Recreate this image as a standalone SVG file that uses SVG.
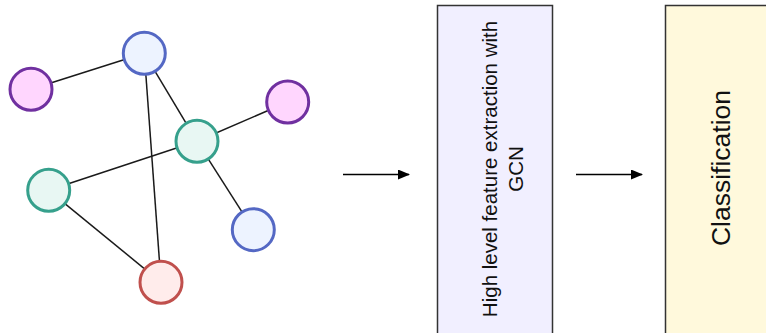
<svg xmlns="http://www.w3.org/2000/svg" width="766" height="333" viewBox="0 0 766 333">
<style>
.edge{stroke:#1a1a1a;stroke-width:1.5;fill:none}
.arrow{stroke:#000;stroke-width:1.5;fill:none}
.node{stroke-width:3}
.blue{fill:#edf3ff;stroke:#5468c4}
.purple{fill:#ffd6fe;stroke:#7030a0}
.green{fill:#e8f7f3;stroke:#36a08c}
.red{fill:#ffeceb;stroke:#c0504d}
.box{stroke:#333;stroke-width:1.5}
.lbl{font-family:"Liberation Sans",Arial,sans-serif;fill:#111;text-anchor:middle}
</style>
<defs>
<marker id="ah" viewBox="0 0 12 10" refX="11" refY="5" markerWidth="12" markerHeight="10" markerUnits="userSpaceOnUse" orient="auto">
<path d="M0,0 L12,5 L0,10 Z" fill="#000"/>
</marker>
</defs>
<rect width="766" height="333" fill="#fff"/>
<g id="connectors">
<line class="edge" x1="144.3" y1="53.3" x2="31" y2="89.3"/>
<line class="edge" x1="144.3" y1="53.3" x2="197" y2="141.3"/>
<line class="edge" x1="144.3" y1="53.3" x2="161" y2="282.3"/>
<line class="edge" x1="197" y1="141.3" x2="287.7" y2="102"/>
<line class="edge" x1="197" y1="141.3" x2="48.7" y2="190.3"/>
<line class="edge" x1="197" y1="141.3" x2="253.3" y2="229.7"/>
<line class="edge" x1="48.7" y1="190.3" x2="161" y2="282.3"/>
<line class="arrow" x1="343" y1="174.5" x2="409" y2="174.5" marker-end="url(#ah)"/>
<line class="arrow" x1="576" y1="174.5" x2="642" y2="174.5" marker-end="url(#ah)"/>
</g>
<g id="n1"><circle class="node blue" cx="144.3" cy="53.3" r="21"/></g>
<g id="n2"><circle class="node purple" cx="31" cy="89.3" r="21"/></g>
<g id="n3"><circle class="node purple" cx="287.7" cy="102" r="21"/></g>
<g id="n4"><circle class="node green" cx="197" cy="141.3" r="21"/></g>
<g id="n5"><circle class="node green" cx="48.7" cy="190.3" r="21"/></g>
<g id="n6"><circle class="node blue" cx="253.3" cy="229.7" r="21"/></g>
<g id="n7"><circle class="node red" cx="161" cy="282.3" r="21"/></g>
<g id="gcn">
<rect class="box" x="437.5" y="5.5" width="115" height="340" fill="#f1efff"/>
<text class="lbl" font-size="20.5" transform="translate(497,169) rotate(-90)">High level feature extraction with</text>
<text class="lbl" font-size="20.5" transform="translate(523,169) rotate(-90)">GCN</text>
</g>
<g id="cls">
<rect class="box" x="665.5" y="5.5" width="115" height="340" fill="#fff9dc"/>
<text class="lbl" font-size="26.5" transform="translate(730,168) rotate(-90)">Classification</text>
</g>
</svg>
